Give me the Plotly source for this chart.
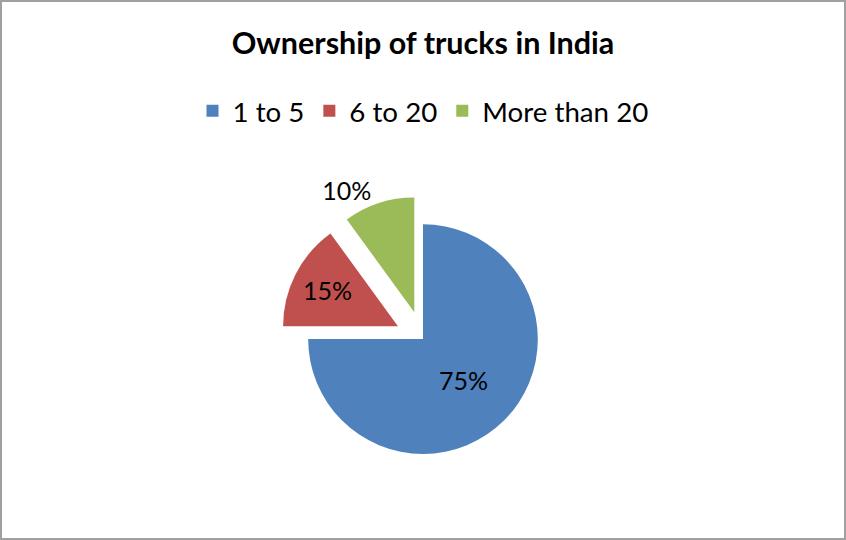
import plotly.graph_objects as go

# Ownership share by fleet size
labels = ["1 to 5", "6 to 20", "More than 20"]
values = [75, 15, 10]
colors = ["#4F81BD", "#C0504D", "#9BBB59"]
pulls = [0, 0.245, 0.245]
text_pos = ["inside", "inside", "outside"]

FONT = "Lato, Calibri, 'Open Sans', sans-serif"

fig = go.Figure()

fig.add_trace(
    go.Pie(
        labels=labels,
        values=values,
        sort=False,
        direction="clockwise",
        rotation=0,
        pull=pulls,
        marker=dict(colors=colors, line=dict(width=0)),
        textinfo="percent",
        texttemplate="%{percent:.0%}",
        textposition=text_pos,
        insidetextorientation="horizontal",
        textfont=dict(family=FONT, size=25, color="black"),
        domain=dict(x=[0.331, 0.669], y=[0.107, 0.637]),
        hoverinfo="label+percent",
    )
)

# chart area border, like the Excel frame
fig.add_shape(
    type="rect",
    xref="paper",
    yref="paper",
    x0=1 / 846,
    y0=1 / 540,
    x1=1 - 1 / 846,
    y1=1 - 1 / 540,
    line=dict(color="#A0A0A0", width=2),
)

fig.update_layout(
    width=846,
    height=540,
    margin=dict(l=0, r=0, t=0, b=0),
    paper_bgcolor="white",
    plot_bgcolor="white",
    title=dict(
        text="<b>Ownership of trucks in India</b>",
        x=0.5,
        xanchor="center",
        y=0.919,
        yanchor="middle",
        font=dict(family=FONT, size=30.5, color="black"),
    ),
    legend=dict(
        orientation="h",
        x=0.5,
        xanchor="center",
        y=0.794,
        yanchor="middle",
        font=dict(family=FONT, size=27.7, color="black"),
        itemsizing="constant",
        traceorder="normal",
    ),
    showlegend=True,
)

# drop the page's default body margin so the chart fills the window
fig.write_html(
    "out.html",
    config={"displayModeBar": False},
    post_script="document.body.style.margin = '0';",
)
